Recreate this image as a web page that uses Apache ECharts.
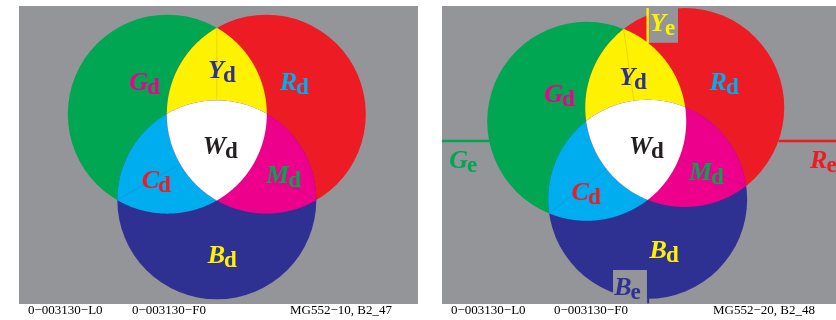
<!DOCTYPE html>
<html><head><meta charset="utf-8">
<script src="https://cdn.jsdelivr.net/npm/echarts@6/dist/echarts.min.js"></script>
<style>html,body{margin:0;padding:0;background:#fff}#c{width:836px;height:320px}</style>
</head><body><div id="c"></div>
<script>
// ---------------- data ----------------
const sets = ['G', 'R', 'B'];                          // primary colour circles
const regionCaps = ['G', 'Y', 'R', 'W', 'C', 'M', 'B']; // region label capitals
const regionSub = 'd';
const extraCaps = ['G', 'R', 'Y', 'B'];                 // "e" labels, right panel
const extraSub = 'e';
const panelRotation = [0, 8];                           // degrees, left / right
const footerLeft = ['0\u2212003130\u2212L0', '0\u2212003130\u2212F0', 'MG552\u221210, B2_47'];
const footerRight = ['0\u2212003130\u2212L0', '0\u2212003130\u2212F0', 'MG552\u221220, B2_48'];

// ---------------- styles / layout ----------------
const COL = { G: '#00a651', R: '#ed1c24', B: '#2e3192', Y: '#fff200', C: '#00aeef', M: '#ec008c', W: '#ffffff' };
const LABEL_COL = { G: '#ec008c', Y: '#2e3192', R: '#00aeef', W: '#231f20', C: '#ed1c24', M: '#00a651', B: '#fff200' };
const EXTRA_COL = { G: '#00a651', R: '#ed1c24', Y: '#fff200', B: '#2e3192' };
const GRAY = '#939598';
const FONT = '"Liberation Serif", "Times New Roman", serif';
const CAP_FS = 26, SUB_FS = 23;
const RHO = 0.995 / Math.sqrt(3);
const baseAngles = [150, 30, 270];
const labelAnchorL = [[-0.702,0.509],[0.062,0.630],[0.796,0.509],[0.082,-0.134],[-0.591,-0.475],[0.717,-0.425],[0.072,-1.229]];
const labelAnchorR = [[-0.781,0.389],[-0.057,0.560],[0.867,0.510],[0.114,-0.134],[-0.520,-0.596],[0.717,-0.395],[0.264,-1.179]];
const extraAnchor = [[-1.736,-0.274],[1.877,-0.274],[0.254,1.103],[-0.092,-1.551]];
const axL = { x: [-1.988, 2.022], y: [-1.621, 1.374] };
const axR = { x: [-1.987, 1.973], y: [-1.621, 1.374] };

function centers(rot) {
  return baseAngles.map(a => { const t = (a + rot) * Math.PI / 180; return [RHO * Math.cos(t), RHO * Math.sin(t)]; });
}
function pairInter(c1, c2, r) {
  const dx = c2[0]-c1[0], dy = c2[1]-c1[1], d = Math.hypot(dx, dy);
  const h = Math.sqrt(Math.max(0, r*r - d*d/4));
  const mx = c1[0]+dx/2, my = c1[1]+dy/2, ux = -dy/d, uy = dx/d;
  return [[mx+h*ux, my+h*uy], [mx-h*ux, my-h*uy]];
}
function regionPoly(cs, r, idx) {
  const pts = [], N = 900;
  const inside = (p, j) => Math.hypot(p[0]-cs[j][0], p[1]-cs[j][1]) <= r + 0.01;
  idx.forEach(i => {
    for (let k = 0; k < N; k++) {
      const a = 2*Math.PI*k/N, p = [cs[i][0]+r*Math.cos(a), cs[i][1]+r*Math.sin(a)];
      if (idx.every(j => j === i || inside(p, j))) pts.push(p);
    }
  });
  for (let a = 0; a < idx.length; a++) for (let b = a+1; b < idx.length; b++) {
    pairInter(cs[idx[a]], cs[idx[b]], r).forEach(p => { if (idx.every(j => inside(p, j))) pts.push(p); });
  }
  let mx = 0, my = 0; pts.forEach(p => { mx += p[0]; my += p[1]; }); mx /= pts.length; my /= pts.length;
  pts.sort((p, q) => Math.atan2(p[1]-my, p[0]-mx) - Math.atan2(q[1]-my, q[0]-mx));
  return pts;
}

function shapesRender(rot, extras, ax) {
  return function (params, api) {
    const r = api.size([1, 1])[0];
    const cs = centers(rot).map(c => api.coord(c));
    const ch = [];
    sets.forEach((s, i) => ch.push({ type: 'circle', shape: { cx: cs[i][0], cy: cs[i][1], r: r }, style: { fill: COL[s] } }));
    const lens = [[0,1,'Y'],[0,2,'C'],[1,2,'M']];
    lens.forEach(l => ch.push({ type: 'polygon', shape: { points: regionPoly(cs, r, [l[0], l[1]]) }, style: { fill: COL[l[2]] } }));
    ch.push({ type: 'polygon', shape: { points: regionPoly(cs, r, [0,1,2]) }, style: { fill: COL.W } });
    // faint radial lines from outer pair intersections
    [[0,1,2],[0,2,1],[1,2,0]].forEach(t => {
      const ck = cs[t[2]];
      const P = pairInter(cs[t[0]], cs[t[1]], r).sort((a, b) => Math.hypot(b[0]-ck[0], b[1]-ck[1]) - Math.hypot(a[0]-ck[0], a[1]-ck[1]))[0];
      const d = Math.hypot(P[0]-ck[0], P[1]-ck[1]);
      const E = [ck[0] + r*(P[0]-ck[0])/d, ck[1] + r*(P[1]-ck[1])/d];
      ch.push({ type: 'line', shape: { x1: P[0], y1: P[1], x2: E[0], y2: E[1] }, style: { stroke: 'rgba(40,50,110,0.2)', lineWidth: 0.7 } });
    });
    if (extras) {
      const yMid = api.coord([0, 0.017])[1];
      const gl = api.coord([ax.x[0], 0.017])[0], rr = api.coord([ax.x[1], 0.017])[0];
      const cg = cs[0], cr = cs[1], cb = cs[2];
      const gx = cg[0] - Math.sqrt(r*r - (yMid-cg[1])**2);
      const rx = cr[0] + Math.sqrt(r*r - (yMid-cr[1])**2);
      ch.push({ type: 'line', shape: { x1: gl, y1: yMid, x2: gx, y2: yMid }, style: { stroke: COL.G, lineWidth: 2.5 } });
      ch.push({ type: 'line', shape: { x1: rx, y1: yMid, x2: rr, y2: yMid }, style: { stroke: COL.R, lineWidth: 2.5 } });
      // Ye box + line
      const y1 = api.coord([0.094, 1.362]), y2 = api.coord([0.385, 1.004]);
      ch.push({ type: 'rect', shape: { x: y1[0], y: y1[1], width: y2[0]-y1[0], height: y2[1]-y1[1] }, style: { fill: GRAY } });
      const yl1 = api.coord([0, 1.354])[1], yl2 = api.coord([0, 1.0])[1];
      ch.push({ type: 'line', shape: { x1: cb[0], y1: yl1, x2: cb[0], y2: yl2 }, style: { stroke: COL.Y, lineWidth: 2.4 } });
      // Be box + line
      const b1 = api.coord([-0.268, -1.280]), b2 = api.coord([0.073, -1.617]);
      ch.push({ type: 'rect', shape: { x: b1[0], y: b1[1], width: b2[0]-b1[0], height: b2[1]-b1[1] }, style: { fill: GRAY } });
      const bl1 = api.coord([0, -1.280])[1], bl2 = api.coord([0, -1.615])[1];
      ch.push({ type: 'line', shape: { x1: cb[0]+0.5, y1: bl1, x2: cb[0]+0.5, y2: bl2 }, style: { stroke: COL.B, lineWidth: 2 } });
    }
    return { type: 'group', children: ch };
  };
}

function labelRender(caps, sub, colMap) {
  return function (params, api) {
    const p = api.coord([api.value(0), api.value(1)]);
    const cap = caps[params.dataIndex];
    const col = colMap[cap];
    return { type: 'group', children: [
      { type: 'text', style: { text: cap, x: p[0] + 1, y: p[1] - CAP_FS*0.33, align: 'right', verticalAlign: 'middle',
        font: 'italic bold ' + CAP_FS + 'px ' + FONT, fill: col } },
      { type: 'text', style: { text: sub, x: p[0], y: p[1] + 3.5 - SUB_FS*0.33, align: 'left', verticalAlign: 'middle',
        font: 'bold ' + SUB_FS + 'px ' + FONT, fill: col } }
    ] };
  };
}

const chart = echarts.init(document.getElementById('c'), null, { renderer: 'canvas' });
const footX = [[28, 132, 290], [451, 554, 713]];
const graphic = [];
[footerLeft, footerRight].forEach((arr, pi) => arr.forEach((t, i) => graphic.push({
  type: 'text', x: footX[pi][i], y: 311,
  style: { text: t, font: '13px ' + FONT, fill: '#000', textAlign: 'left', textVerticalAlign: 'middle' }
})));

chart.setOption({
  animation: false,
  graphic: graphic,
  grid: [
    { left: 19, top: 6, width: 399, height: 298, show: true, backgroundColor: GRAY, borderWidth: 0 },
    { left: 442, top: 6, width: 394, height: 298, show: true, backgroundColor: GRAY, borderWidth: 0 }
  ],
  xAxis: [
    { type: 'value', gridIndex: 0, min: axL.x[0], max: axL.x[1], show: false },
    { type: 'value', gridIndex: 1, min: axR.x[0], max: axR.x[1], show: false }
  ],
  yAxis: [
    { type: 'value', gridIndex: 0, min: axL.y[0], max: axL.y[1], show: false },
    { type: 'value', gridIndex: 1, min: axR.y[0], max: axR.y[1], show: false }
  ],
  series: [
    { type: 'custom', xAxisIndex: 0, yAxisIndex: 0, data: [[0, 0]], renderItem: shapesRender(panelRotation[0], false, axL), silent: true },
    { type: 'custom', xAxisIndex: 1, yAxisIndex: 1, data: [[0, 0]], renderItem: shapesRender(panelRotation[1], true, axR), silent: true },
    { type: 'custom', xAxisIndex: 0, yAxisIndex: 0, data: labelAnchorL, renderItem: labelRender(regionCaps, regionSub, LABEL_COL), silent: true, z: 5 },
    { type: 'custom', xAxisIndex: 1, yAxisIndex: 1, data: labelAnchorR, renderItem: labelRender(regionCaps, regionSub, LABEL_COL), silent: true, z: 5 },
    { type: 'custom', xAxisIndex: 1, yAxisIndex: 1, data: extraAnchor, renderItem: labelRender(extraCaps, extraSub, EXTRA_COL), silent: true, z: 5 }
  ]
});
</script></body></html>
